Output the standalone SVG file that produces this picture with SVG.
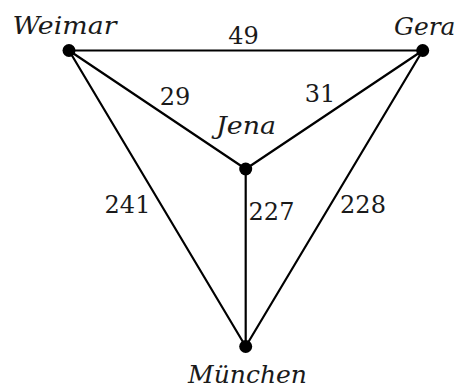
<svg xmlns="http://www.w3.org/2000/svg" width="462" height="389" viewBox="0 0 462 389">
<style>
.e{stroke:#000;stroke-width:2.2;fill:none;stroke-linecap:round}
.n{fill:#000}
text{font-family:'DejaVu Serif','Liberation Serif',serif;font-size:24px;fill:#1a1a1a}
.i{font-style:italic}
</style>
<rect width="462" height="389" fill="#fff"/>
<g id="connectors">
<line class="e" x1="69" y1="50.5" x2="422.7" y2="50.5"/>
<line class="e" x1="69" y1="50.5" x2="245.7" y2="169"/>
<line class="e" x1="422.7" y1="50.5" x2="245.7" y2="169"/>
<line class="e" x1="69" y1="50.5" x2="245.7" y2="346.5"/>
<line class="e" x1="245.7" y1="169" x2="245.7" y2="346.5"/>
<line class="e" x1="422.7" y1="50.5" x2="245.7" y2="346.5"/>
<text x="243.5" y="44" text-anchor="middle">49</text>
<text x="175" y="105" text-anchor="middle">29</text>
<text x="320" y="102" text-anchor="middle">31</text>
<text x="127.5" y="213" text-anchor="middle">241</text>
<text x="271.5" y="220" text-anchor="middle">227</text>
<text x="363" y="213" text-anchor="middle">228</text>
</g>
<g id="weimar"><circle class="n" cx="69" cy="50.5" r="6.5"/><text class="i" x="12.5" y="34" textLength="104" lengthAdjust="spacingAndGlyphs">Weimar</text></g>
<g id="gera"><circle class="n" cx="422.7" cy="50.5" r="6.5"/><text class="i" x="394" y="35" textLength="61.5" lengthAdjust="spacingAndGlyphs">Gera</text></g>
<g id="jena"><circle class="n" cx="245.7" cy="169" r="6.5"/><text class="i" x="216" y="134" textLength="60" lengthAdjust="spacingAndGlyphs">Jena</text></g>
<g id="muenchen"><circle class="n" cx="245.7" cy="346.5" r="6.5"/><text class="i" x="188" y="383" textLength="119" lengthAdjust="spacingAndGlyphs">München</text></g>
</svg>
